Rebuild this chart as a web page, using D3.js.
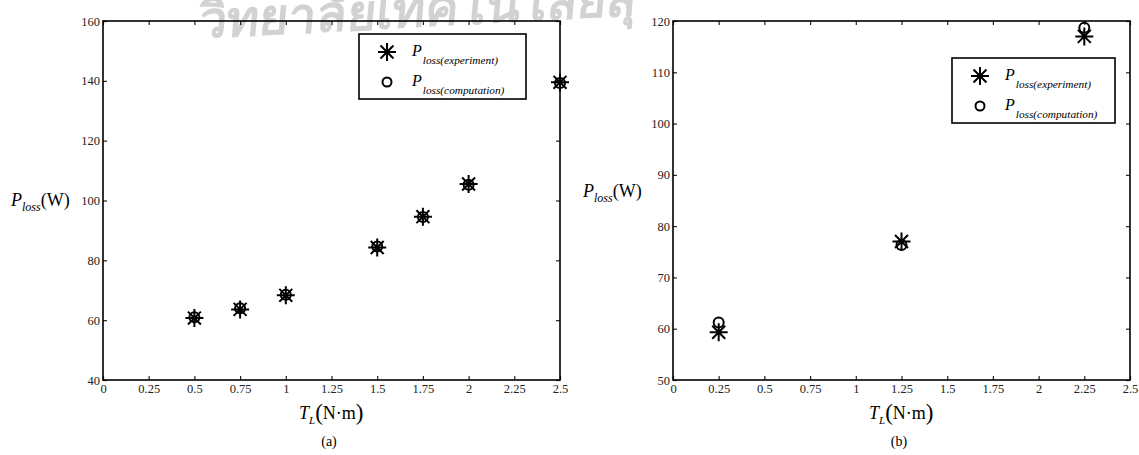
<!DOCTYPE html>
<html>
<head>
<meta charset="utf-8">
<script src="https://cdn.jsdelivr.net/npm/d3@7"></script>
<style>
  body { margin: 0; background: #fff; }
  text { font-family: "Liberation Serif", "Times New Roman", serif; }
</style>
</head>
<body>
<script>
// torque values and measured / computed loss, panel (a)
var torqueA = [0.5, 0.75, 1, 1.5, 1.75, 2, 2.5];
var lossExpA = [60.7, 63.6, 68.3, 84.3, 94.6, 105.5, 139.5];
var lossCompA = [61, 64, 68.5, 84.6, 94.5, 105.3, 139.3];

// panel (b)
var torqueB = [0.25, 1.25, 2.25];
var lossExpB = [59.3, 77, 117];
var lossCompB = [61.2, 76.3, 118.7];

var xTicks = [0, 0.25, 0.5, 0.75, 1, 1.25, 1.5, 1.75, 2, 2.25, 2.5];
var yTicksA = [40, 60, 80, 100, 120, 140, 160];
var yTicksB = [50, 60, 70, 80, 90, 100, 110, 120];

var legendNames = ["loss(experiment)", "loss(computation)"];

var svg = d3.select("body").append("svg")
  .attr("width", 1139)
  .attr("height", 455);

// faint watermark across the top
svg.append("text")
  .attr("x", 203)
  .attr("y", 38)
  .attr("transform", "rotate(-3, 203, 38) skewX(-8)")
  .style("font-family", "'Noto Sans', sans-serif")
  .style("font-size", "50px")
  .style("font-weight", "600")
  .style("fill", "#d2d2d2")
  .text("วิทยาลัยเทคโนโลยีสุ");

var starPath = function (r) {
  var d = r * 0.72;
  return "M" + (-r) + ",0L" + r + ",0" +
    "M0," + (-r) + "L0," + r +
    "M" + (-d) + "," + (-d) + "L" + d + "," + d +
    "M" + (-d) + "," + d + "L" + d + "," + (-d);
};

var drawPanel = function (cfg) {
  var x, y, g, top = 21, bottom = 380;

  x = d3.scaleLinear().domain([0, 2.5]).range([cfg.left, cfg.left + 457]);
  y = d3.scaleLinear().domain(cfg.yDomain).range([bottom, top]);

  g = svg.append("g");

  g.append("g")
    .attr("class", "axis")
    .attr("transform", "translate(0," + bottom + ")")
    .call(d3.axisBottom(x).tickValues(xTicks).tickSize(-4).tickPadding(4).tickFormat(d3.format("")));

  g.append("g")
    .attr("class", "axis")
    .attr("transform", "translate(0," + top + ")")
    .call(d3.axisTop(x).tickValues(xTicks).tickSize(-4).tickFormat(""));

  g.append("g")
    .attr("class", "axis")
    .attr("transform", "translate(" + cfg.left + ",0)")
    .call(d3.axisLeft(y).tickValues(cfg.yTicks).tickSize(-4).tickPadding(3));

  g.append("g")
    .attr("class", "axis")
    .attr("transform", "translate(" + (cfg.left + 457) + ",0)")
    .call(d3.axisRight(y).tickValues(cfg.yTicks).tickSize(-4).tickFormat(""));

  g.selectAll(".axis").attr("font-family", null).attr("font-size", null);
  g.selectAll(".axis .domain").remove();
  g.selectAll(".axis line").attr("stroke", "#222").attr("stroke-width", 1.2);
  g.selectAll(".axis text")
    .style("font-family", "'Liberation Serif', serif")
    .style("font-size", "12.5px")
    .attr("fill", "#222");

  g.append("rect")
    .attr("x", cfg.left)
    .attr("y", top)
    .attr("width", 457)
    .attr("height", bottom - top)
    .attr("fill", "none")
    .attr("stroke", "#000")
    .attr("stroke-width", 1.6);

  // markers
  g.selectAll(".star")
    .data(cfg.torque)
    .enter().append("path")
    .attr("class", "star")
    .attr("transform", function (d, i) { return "translate(" + x(d) + "," + y(cfg.exp[i]) + ")"; })
    .attr("d", starPath(cfg.starR))
    .attr("fill", "none")
    .attr("stroke", "#000")
    .attr("stroke-width", 2);

  g.selectAll(".ring")
    .data(cfg.torque)
    .enter().append("circle")
    .attr("class", "ring")
    .attr("cx", function (d) { return x(d); })
    .attr("cy", function (d, i) { return y(cfg.comp[i]); })
    .attr("r", cfg.ringR)
    .attr("fill", "none")
    .attr("stroke", "#000")
    .attr("stroke-width", 2);

  // legend
  var lg = g.append("g").attr("transform", "translate(" + cfg.legend[0] + "," + cfg.legend[1] + ")");
  lg.append("rect")
    .attr("width", cfg.legend[2])
    .attr("height", 65)
    .attr("fill", "#fff")
    .attr("stroke", "#000")
    .attr("stroke-width", 1.6);

  lg.append("path")
    .attr("transform", "translate(28,18)")
    .attr("d", starPath(9))
    .attr("fill", "none")
    .attr("stroke", "#000")
    .attr("stroke-width", 2);

  lg.append("circle")
    .attr("cx", 28)
    .attr("cy", 48)
    .attr("r", 4.5)
    .attr("fill", "none")
    .attr("stroke", "#000")
    .attr("stroke-width", 2);

  legendNames.forEach(function (name, i) {
    var t = lg.append("text")
      .attr("x", 53)
      .attr("y", 22 + i * 30)
      .style("font-style", "italic")
      .style("font-size", "16px");
    t.append("tspan").text("P");
    t.append("tspan")
      .attr("dy", 8)
      .attr("dx", 1)
      .style("font-size", "11.3px")
      .text(name);
  });

  // y title
  var yt = g.append("text")
    .attr("x", cfg.yTitle[0])
    .attr("y", cfg.yTitle[1])
    .style("font-size", "18px");
  yt.append("tspan").style("font-style", "italic").text("P");
  yt.append("tspan").attr("dy", 5).style("font-style", "italic").style("font-size", "12px").text("loss");
  yt.append("tspan").attr("dy", -5).text("(W)");

  // x title
  var xt = g.append("text")
    .attr("x", cfg.left + 196)
    .attr("y", 419)
    .style("font-size", "18px");
  xt.append("tspan").style("font-style", "italic").text("T");
  xt.append("tspan").attr("dy", 5).style("font-style", "italic").style("font-size", "11px").text("L");
  xt.append("tspan").attr("dy", -4).style("font-size", "23px").text("(");
  xt.append("tspan").attr("dy", -1).text("N·m");
  xt.append("tspan").attr("dy", 1).style("font-size", "23px").text(")");

  g.append("text")
    .attr("x", cfg.left + 226)
    .attr("y", 446)
    .attr("text-anchor", "middle")
    .style("font-size", "14px")
    .text(cfg.caption);
};

drawPanel({
  left: 103,
  yDomain: [40, 160],
  yTicks: yTicksA,
  torque: torqueA,
  exp: lossExpA,
  comp: lossCompA,
  starR: 9,
  ringR: 5,
  legend: [359, 34, 167],
  yTitle: [11, 206],
  caption: "(a)"
});

drawPanel({
  left: 673,
  yDomain: [50, 120],
  yTicks: yTicksB,
  torque: torqueB,
  exp: lossExpB,
  comp: lossCompB,
  starR: 9,
  ringR: 5,
  legend: [952, 58, 163],
  yTitle: [583, 197],
  caption: "(b)"
});
</script>
</body>
</html>
